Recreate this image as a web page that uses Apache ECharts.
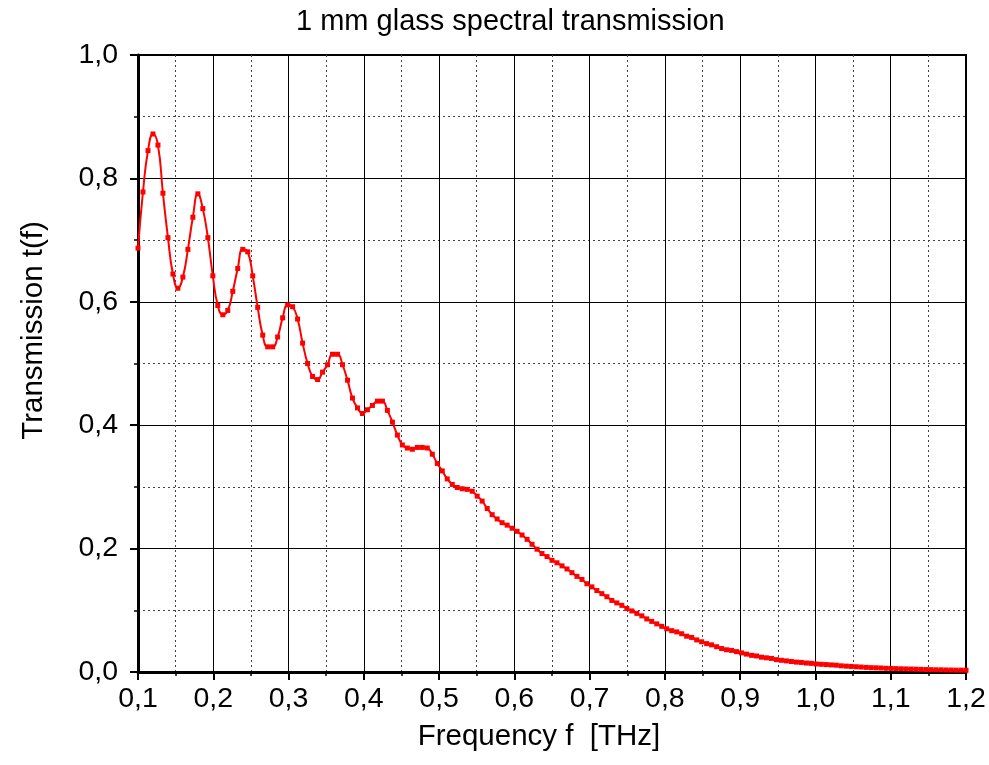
<!DOCTYPE html>
<html>
<head>
<meta charset="utf-8">
<script src="https://cdn.jsdelivr.net/npm/echarts@6/dist/echarts.min.js"></script>
<style>
  html, body { margin: 0; padding: 0; background: #fff; }
  #chart { width: 989px; height: 765px; }
</style>
</head>
<body>
<div id="chart"></div>
<script>
var titleText = '1 mm glass spectral transmission';
var xName = 'Frequency f  [THz]';
var yName = 'Transmission t(f)';

// frequency samples [THz]
var freq = [
  0.1000, 0.1066, 0.1133, 0.1199, 0.1265, 0.1331, 0.1398, 0.1464, 0.1530, 0.1596,
  0.1663, 0.1729, 0.1795, 0.1861, 0.1928, 0.1994, 0.2060, 0.2127, 0.2193, 0.2259,
  0.2325, 0.2392, 0.2458, 0.2524, 0.2590, 0.2657, 0.2723, 0.2789, 0.2855, 0.2922,
  0.2988, 0.3054, 0.3120, 0.3187, 0.3253, 0.3319, 0.3386, 0.3452, 0.3518, 0.3584,
  0.3651, 0.3717, 0.3783, 0.3849, 0.3916, 0.3982, 0.4048, 0.4114, 0.4181, 0.4247,
  0.4313, 0.4380, 0.4446, 0.4512, 0.4578, 0.4645, 0.4711, 0.4777, 0.4843, 0.4910,
  0.4976, 0.5042, 0.5108, 0.5175, 0.5241, 0.5307, 0.5373, 0.5440, 0.5506, 0.5572,
  0.5639, 0.5705, 0.5771, 0.5837, 0.5904, 0.5970, 0.6036, 0.6102, 0.6169, 0.6235,
  0.6301, 0.6367, 0.6434, 0.6500, 0.6566, 0.6633, 0.6699, 0.6765, 0.6831, 0.6898,
  0.6964, 0.7030, 0.7096, 0.7163, 0.7229, 0.7295, 0.7361, 0.7428, 0.7494, 0.7560,
  0.7627, 0.7693, 0.7759, 0.7825, 0.7892, 0.7958, 0.8024, 0.8090, 0.8157, 0.8223,
  0.8289, 0.8355, 0.8422, 0.8488, 0.8554, 0.8620, 0.8687, 0.8753, 0.8819, 0.8886,
  0.8952, 0.9018, 0.9084, 0.9151, 0.9217, 0.9283, 0.9349, 0.9416, 0.9482, 0.9548,
  0.9614, 0.9681, 0.9747, 0.9813, 0.9880, 0.9946, 1.0012, 1.0078, 1.0145, 1.0211,
  1.0277, 1.0343, 1.0410, 1.0476, 1.0542, 1.0608, 1.0675, 1.0741, 1.0807, 1.0873,
  1.0940, 1.1006, 1.1072, 1.1139, 1.1205, 1.1271, 1.1337, 1.1404, 1.1470, 1.1536,
  1.1602, 1.1669, 1.1735, 1.1801, 1.1867, 1.1934, 1.2000
];

// transmission t(f)
var trans = [
  0.687, 0.778, 0.845, 0.872, 0.854, 0.776, 0.704, 0.645, 0.622, 0.640,
  0.685, 0.737, 0.775, 0.751, 0.704, 0.642, 0.594, 0.579, 0.586, 0.617,
  0.654, 0.685, 0.681, 0.642, 0.591, 0.546, 0.527, 0.527, 0.543, 0.574,
  0.595, 0.592, 0.572, 0.533, 0.500, 0.479, 0.474, 0.486, 0.498, 0.515,
  0.515, 0.498, 0.473, 0.444, 0.428, 0.419, 0.425, 0.432, 0.439, 0.439,
  0.424, 0.405, 0.384, 0.368, 0.363, 0.361, 0.364, 0.364, 0.363, 0.353,
  0.338, 0.326, 0.313, 0.304, 0.299, 0.297, 0.296, 0.293, 0.285, 0.277,
  0.265, 0.255, 0.248, 0.242, 0.238, 0.233, 0.228, 0.222, 0.215, 0.207,
  0.199, 0.192, 0.187, 0.181, 0.177, 0.172, 0.167, 0.161, 0.155, 0.150,
  0.143, 0.138, 0.132, 0.127, 0.122, 0.116, 0.112, 0.108, 0.103, 0.099,
  0.095, 0.091, 0.086, 0.082, 0.078, 0.074, 0.070, 0.067, 0.065, 0.062,
  0.058, 0.056, 0.052, 0.049, 0.046, 0.044, 0.041, 0.038, 0.036, 0.035,
  0.033, 0.031, 0.029, 0.027, 0.026, 0.024, 0.023, 0.022, 0.020, 0.019,
  0.018, 0.017, 0.016, 0.0155, 0.0145, 0.014, 0.013, 0.0125, 0.012, 0.0115,
  0.011, 0.010, 0.0095, 0.009, 0.0085, 0.008, 0.0075, 0.007, 0.0068, 0.0065,
  0.006, 0.0058, 0.0055, 0.0052, 0.005, 0.0048, 0.0045, 0.0043, 0.004, 0.0038,
  0.0036, 0.0035, 0.0033, 0.0032, 0.003, 0.003, 0.0029
];

var fontFamily = '"Liberation Sans", Arial, sans-serif';

function commaFmt(v) {
    return v.toFixed(1).replace('.', ',');
}

var chart = echarts.init(document.getElementById('chart'), null, { renderer: 'canvas' });

var option = {
    animation: false,
    backgroundColor: '#fff',
    title: {
        text: titleText,
        left: 296,
        top: 7,
        padding: 0,
        textStyle: { fontFamily: fontFamily, fontSize: 29, fontWeight: 'normal', color: '#000' }
    },
    grid: {
        left: 138,
        right: 23,
        top: 55,
        bottom: 93,
        show: true,
        borderColor: '#000',
        borderWidth: 2,
        backgroundColor: '#fff'
    },
    xAxis: {
        type: 'value',
        min: 0.1,
        max: 1.2,
        interval: 0.1,
        name: xName,
        nameLocation: 'middle',
        nameGap: 50,
        nameTextStyle: { fontFamily: fontFamily, fontSize: 29.5, color: '#000', padding: [0, 26, 0, 0] },
        axisLine: { onZero: false, lineStyle: { color: '#000', width: 3 } },
        axisTick: { show: true, inside: false, length: 8, lineStyle: { color: '#000', width: 2 } },
        minorTick: { show: true, splitNumber: 2, length: 4, lineStyle: { color: '#000', width: 1.5 } },
        axisLabel: {
            margin: 13,
            fontFamily: fontFamily,
            fontSize: 28.5,
            color: '#000',
            showMinLabel: true,
            showMaxLabel: true,
            formatter: commaFmt
        },
        splitLine: { show: true, lineStyle: { color: '#000', width: 1, type: 'solid' } },
        minorSplitLine: { show: true, lineStyle: { color: '#444', width: 1, type: [2, 3] } }
    },
    yAxis: {
        type: 'value',
        min: 0,
        max: 1,
        interval: 0.2,
        name: yName,
        nameLocation: 'middle',
        nameGap: 89,
        nameTextStyle: { fontFamily: fontFamily, fontSize: 29.5, color: '#000', padding: [0, 0, 0, 66] },
        axisLine: { show: true, onZero: false, lineStyle: { color: '#000', width: 3 } },
        axisTick: { show: true, inside: false, length: 8, lineStyle: { color: '#000', width: 2 } },
        minorTick: { show: true, splitNumber: 2, length: 4, lineStyle: { color: '#000', width: 1.5 } },
        axisLabel: {
            margin: 20,
            fontFamily: fontFamily,
            fontSize: 28.5,
            color: '#000',
            showMinLabel: true,
            showMaxLabel: true,
            formatter: commaFmt
        },
        splitLine: { show: true, lineStyle: { color: '#000', width: 1, type: 'solid' } },
        minorSplitLine: { show: true, lineStyle: { color: '#444', width: 1, type: [2, 3] } }
    },
    series: [
        {
            type: 'line',
            data: freq.map(function (f, i) { return [f, trans[i]]; }),
            smooth: 0.5,
            symbol: 'rect',
            symbolSize: 5,
            showSymbol: true,
            showAllSymbol: true,
            clip: true,
            lineStyle: { color: '#ff0000', width: 2 },
            itemStyle: { color: '#ff0000' }
        }
    ]
};

chart.setOption(option);
</script>
</body>
</html>
